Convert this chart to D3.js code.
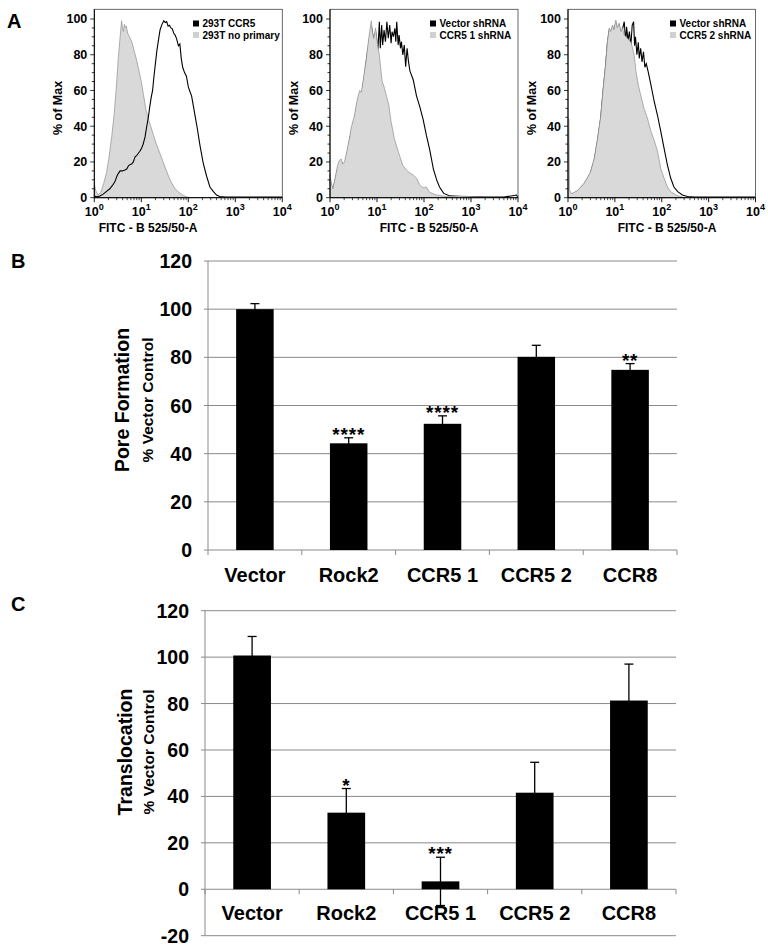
<!DOCTYPE html>
<html><head><meta charset="utf-8">
<script src="https://d3js.org/d3.v7.min.js"></script>
<style>
body{margin:0;background:#fff}
svg{display:block;font-family:"Liberation Sans",Arial,Helvetica,sans-serif;font-weight:bold}
</style></head>
<body><svg id="c" width="768" height="952"></svg>
<script>
// ---------------- DATA ----------------
// Panel A histograms: [log10(FITC), % of Max]
const h1Black = [[0,1],[0.05,0.5],[0.12,1],[0.19,2],[0.26,3.5],[0.33,5],[0.39,7],[0.44,9],[0.48,12],[0.51,13.5],[0.55,15],[0.6,15],[0.65,15.5],[0.69,16],[0.73,18],[0.76,18.5],[0.8,19],[0.83,20],[0.87,23],[0.9,23.5],[0.94,25],[0.97,26],[1.01,28],[1.04,30],[1.08,34],[1.11,39],[1.15,45],[1.18,51],[1.21,56],[1.24,60],[1.27,68],[1.3,75],[1.33,82],[1.37,89],[1.4,94],[1.44,97],[1.48,99],[1.51,98],[1.54,98.5],[1.57,96],[1.6,96.5],[1.63,95],[1.66,94.5],[1.69,92],[1.72,91],[1.75,89],[1.79,85],[1.82,86],[1.85,78],[1.88,73],[1.92,70],[1.96,68],[2.0,62],[2.04,59],[2.07,57],[2.11,51],[2.15,45],[2.19,39],[2.25,29],[2.32,19],[2.39,12],[2.46,6],[2.53,3.5],[2.6,1.5],[2.67,0.7],[2.8,0.4],[3.0,0.3],[3.5,0.3],[4,0.3]];
const h1Gray = [[0,8],[0.03,4],[0.08,1.5],[0.14,3],[0.2,8],[0.26,14],[0.31,22],[0.37,34],[0.42,46],[0.47,62],[0.51,78],[0.55,90],[0.58,99],[0.6,95],[0.62,93],[0.64,97],[0.66,95],[0.68,96],[0.71,92],[0.75,90],[0.8,87],[0.85,82],[0.9,77],[0.95,71],[1.0,65],[1.05,57],[1.1,49],[1.15,44],[1.2,40],[1.26,35],[1.32,30],[1.38,26],[1.45,21],[1.52,16],[1.58,12],[1.65,8],[1.72,5],[1.8,3],[1.88,1.5],[1.97,0.4],[2.05,0]];
const h2Black = [[0,10],[0.06,4],[0.16,16],[0.24,20],[0.31,18],[0.38,27],[0.45,37],[0.52,44],[0.59,54],[0.63,58],[0.68,59],[0.73,68],[0.8,82],[0.88,96],[0.93,88],[0.97,93],[1.02,83],[1.05,98.5],[1.07,83.6],[1.1,96.6],[1.12,85.4],[1.15,93.8],[1.18,87.3],[1.21,98.5],[1.24,89.2],[1.27,96.6],[1.3,86.4],[1.32,92.9],[1.35,90.1],[1.38,94.8],[1.4,87.3],[1.42,98.5],[1.45,85.4],[1.47,91],[1.5,83.6],[1.52,87.3],[1.55,79.9],[1.58,85.4],[1.61,73.3],[1.64,83.6],[1.67,76.1],[1.7,71],[1.77,66],[1.84,57],[1.91,51],[1.98,44],[2.05,35],[2.12,27],[2.2,16],[2.27,10],[2.33,6],[2.42,2.4],[2.55,1],[2.8,0.6],[3.0,0.5],[3.3,0.3],[3.7,0.3],[3.97,1.5],[4,0]];
const h2Gray = [[0,13],[0.03,8],[0.06,5],[0.11,11],[0.16,18],[0.2,21],[0.24,21.6],[0.27,19],[0.31,20],[0.35,25],[0.38,29],[0.42,34],[0.45,39],[0.49,43],[0.52,46],[0.56,52],[0.59,56],[0.63,60],[0.66,59],[0.68,61],[0.73,70],[0.77,77],[0.8,84],[0.84,92],[0.88,99],[0.9,93],[0.93,89],[0.97,95],[1.0,88],[1.02,84],[1.05,80],[1.08,72],[1.11,65],[1.14,63],[1.16,61],[1.21,56],[1.25,52],[1.3,42.5],[1.37,33],[1.45,26],[1.5,22],[1.55,18],[1.66,14.5],[1.77,12.7],[1.84,11],[1.91,7],[1.98,5.6],[2.05,6],[2.12,3],[2.26,1.5],[2.48,0.7],[2.76,1],[2.98,0.6],[3.16,0.3],[3.2,0]];
const h3Black = [[0,0.5],[0.09,2],[0.2,3.5],[0.34,7.5],[0.41,10.5],[0.48,14],[0.56,21],[0.63,32],[0.7,45],[0.75,60],[0.8,73],[0.84,86],[0.88,94],[0.91,92],[0.95,95.6],[0.98,93],[1.02,98],[1.05,94],[1.09,96.6],[1.13,92],[1.16,94],[1.2,98.5],[1.23,87],[1.25,95.7],[1.28,88],[1.31,93],[1.34,85],[1.37,96.6],[1.4,98.5],[1.42,85],[1.44,90],[1.47,80],[1.5,87],[1.52,78],[1.55,83.6],[1.58,76],[1.61,81.7],[1.64,73],[1.67,75],[1.71,70.5],[1.77,63],[1.84,53.7],[1.91,46],[1.98,37],[2.05,27.6],[2.12,18.3],[2.19,11],[2.26,6],[2.34,3.4],[2.44,1.5],[2.55,0.7],[2.7,0.3],[4,0.3]];
const h3Gray = [[0,44],[0.02,44],[0.03,5],[0.06,2.5],[0.09,2.4],[0.2,4],[0.34,8],[0.41,11],[0.48,14.5],[0.56,22],[0.63,33],[0.7,46],[0.75,61],[0.8,74],[0.84,87],[0.88,95],[0.91,93],[0.95,96.6],[0.98,94],[1.02,99.4],[1.05,95],[1.09,97.6],[1.13,93],[1.16,95],[1.2,91],[1.27,89],[1.34,87],[1.37,84.5],[1.41,80],[1.45,70.5],[1.5,63],[1.55,57.5],[1.62,50],[1.7,44],[1.77,37],[1.84,32],[1.91,26],[1.98,16],[2.05,11],[2.12,6],[2.19,3.4],[2.3,1.5],[2.41,0.5],[2.5,0]];
const histLegends = [["293T CCR5","293T no primary"],["Vector shRNA","CCR5 1 shRNA"],["Vector shRNA","CCR5 2 shRNA"]];
const histYTicks = [0,20,40,60,80,100];
const histXTicks = [1,10,100,1000,10000];

// Panels B / C bar charts
const categories = ["Vector","Rock2","CCR5 1","CCR5 2","CCR8"];
const poreValues = [100, 44.3, 52.4, 80.2, 74.8];
const poreErrors = [2.3, 2.3, 3.3, 4.8, 2.6];
const poreSig = ["", "****", "****", "", "**"];
const poreTicks = [0,20,40,60,80,100,120];
const transValues = [100.7, 33.0, 3.4, 41.6, 81.3];
const transErrors = [8.2, 10.4, 10.4, 13.1, 15.7];
const transSig = ["", "*", "***", "", ""];
const transTicks = [-20,0,20,40,60,80,100,120];

// ---------------- DRAW ----------------
const svg = d3.select("#c");

// Panel letters
svg.append("text").attr("x",7).attr("y",28).attr("font-size",20).text("A");
svg.append("text").attr("x",11).attr("y",268).attr("font-size",20).text("B");
svg.append("text").attr("x",11).attr("y",611).attr("font-size",20).text("C");

// ----- Panel A -----
const histPanels = [
  {x0:94.3, w:188, black:h1Black, gray:h1Gray, grayOnTop:false, leg:histLegends[0], legX:193, ylabX:58, fitcX:148},
  {x0:330, w:188, black:h2Black, gray:h2Gray, grayOnTop:true, leg:histLegends[1], legX:430, ylabX:294, fitcX:429},
  {x0:568, w:187.5, black:h3Black, gray:h3Gray, grayOnTop:true, leg:histLegends[2], legX:670, ylabX:532, fitcX:667}
];
const hTop = 9.3, hBot = 197.7;
histPanels.forEach(p => {
  const g = svg.append("g");
  const x = d3.scaleLog().domain([1,10000]).range([p.x0, p.x0+p.w]);
  const y = d3.scaleLinear().domain([0,100]).range([hBot, 19]);
  const area = d3.area().x(d=>x(Math.pow(10,d[0]))).y0(y(0)).y1(d=>y(d[1]));
  const line = d3.line().x(d=>x(Math.pow(10,d[0]))).y(d=>y(d[1]));
  const drawGray = () => g.append("path").attr("d", area(p.gray))
      .attr("fill","#d9d9d9").attr("stroke","#9a9a9a").attr("stroke-width",0.8);
  const drawBlack = () => g.append("path").attr("d", line(p.black))
      .attr("fill","none").attr("stroke","#000").attr("stroke-width",1.1);
  if (p.grayOnTop) { drawBlack(); drawGray(); } else { drawGray(); drawBlack(); }
  // frame
  g.append("rect").attr("x",p.x0).attr("y",hTop).attr("width",p.w).attr("height",hBot-hTop)
    .attr("fill","none").attr("stroke","#444").attr("stroke-width",0.8);
  g.append("line").attr("x1",p.x0).attr("x2",p.x0).attr("y1",hTop).attr("y2",hBot).attr("stroke","#000").attr("stroke-width",1);
  g.append("line").attr("x1",p.x0).attr("x2",p.x0+p.w).attr("y1",hBot).attr("y2",hBot).attr("stroke","#000").attr("stroke-width",1);
  // y ticks
  d3.range(0,101,5).forEach(v => {
    const major = v % 20 === 0;
    g.append("line").attr("x1",p.x0-(major?4:2.5)).attr("x2",p.x0).attr("y1",y(v)).attr("y2",y(v))
      .attr("stroke","#000").attr("stroke-width",0.8);
  });
  histYTicks.forEach(v => {
    g.append("text").attr("x",p.x0-7).attr("y",y(v)+4.3).attr("text-anchor","end").attr("font-size",12.5).text(v);
  });
  // x ticks
  for (let d=0; d<4; d++) for (let k=2;k<10;k++) {
    const xv = x(k*Math.pow(10,d));
    g.append("line").attr("x1",xv).attr("x2",xv).attr("y1",hBot).attr("y2",hBot+2.5).attr("stroke","#000").attr("stroke-width",0.7);
  }
  histXTicks.forEach((v,i) => {
    g.append("line").attr("x1",x(v)).attr("x2",x(v)).attr("y1",hBot).attr("y2",hBot+4.5).attr("stroke","#000").attr("stroke-width",0.9);
    const t = g.append("text").attr("x",x(v)).attr("y",216).attr("text-anchor","middle").attr("font-size",12.5);
    t.append("tspan").text("10");
    t.append("tspan").attr("dy",-6).attr("font-size",9).text(i);
  });
  g.append("text").attr("x",p.fitcX).attr("y",232).attr("text-anchor","middle").attr("font-size",12).text("FITC - B 525/50-A");
  g.append("text").attr("transform",`translate(${p.ylabX},108) rotate(-90)`).attr("dy","0.35em")
    .attr("text-anchor","middle").attr("font-size",12.5).text("% of Max");
  // legend
  g.append("rect").attr("x",p.legX).attr("y",20.5).attr("width",6).attr("height",6).attr("fill","#000");
  g.append("rect").attr("x",p.legX).attr("y",32).attr("width",6).attr("height",6).attr("fill","#d0d0d0");
  g.append("text").attr("x",p.legX+9.5).attr("y",27).attr("font-size",10).text(p.leg[0]);
  g.append("text").attr("x",p.legX+9.5).attr("y",38.6).attr("font-size",10).text(p.leg[1]);
});

// ----- Bar panels -----
function barPanel(o) {
  const g = svg.append("g");
  const x = d3.scaleBand().domain(categories).range([o.x0,o.x1]).paddingInner(0.6).paddingOuter(0.3);
  const y = d3.scaleLinear().domain(o.domain).range([o.yBot,o.yTop]);
  const grid = "#8a8a8a";
  o.ticks.forEach(v => {
    g.append("line").attr("x1",o.x0-4).attr("x2",o.x1).attr("y1",y(v)).attr("y2",y(v)).attr("stroke",grid).attr("stroke-width",1);
    g.append("text").attr("x",o.x0-16).attr("y",y(v)+7).attr("text-anchor","end").attr("font-size",19.5).text(v);
  });
  g.append("line").attr("x1",o.x0).attr("x2",o.x0).attr("y1",y(o.domain[0])).attr("y2",y(o.domain[1])).attr("stroke",grid).attr("stroke-width",1);
  // category tick marks on zero line
  const step = x.step();
  for (let i=0;i<=categories.length;i++) {
    const xx = o.x0 + i*step;
    g.append("line").attr("x1",xx).attr("x2",xx).attr("y1",y(0)).attr("y2",y(0)+5).attr("stroke",grid).attr("stroke-width",1);
  }
  categories.forEach((c,i) => {
    const cx = x(c) + x.bandwidth()/2;
    const v = o.values[i], e = o.errors[i];
    g.append("rect").attr("x",x(c)).attr("width",x.bandwidth())
      .attr("y",y(Math.max(v,0))).attr("height",Math.abs(y(v)-y(0))).attr("fill","#000");
    g.append("line").attr("x1",cx).attr("x2",cx).attr("y1",y(v+e)).attr("y2",y(v-e)).attr("stroke","#000").attr("stroke-width",1.3);
    g.append("line").attr("x1",cx-4.5).attr("x2",cx+4.5).attr("y1",y(v+e)).attr("y2",y(v+e)).attr("stroke","#000").attr("stroke-width",1.3);
    g.append("line").attr("x1",cx-4.5).attr("x2",cx+4.5).attr("y1",y(v-e)).attr("y2",y(v-e)).attr("stroke","#000").attr("stroke-width",1.3);
    if (o.sig[i]) {
      g.append("text").attr("x",cx).attr("y",y(v+e)+3).attr("text-anchor","middle")
        .attr("font-size",19).attr("letter-spacing",0.8).text(o.sig[i]);
    }
    g.append("text").attr("x",cx).attr("y",o.catY).attr("text-anchor","middle").attr("font-size",20).text(c);
  });
  g.append("text").attr("transform",`translate(${o.lab1X},${o.labY}) rotate(-90)`).attr("dy","0.35em")
    .attr("text-anchor","middle").attr("font-size",19.5).text(o.label1);
  g.append("text").attr("transform",`translate(${o.lab2X},${o.labY}) rotate(-90)`).attr("dy","0.35em")
    .attr("text-anchor","middle").attr("font-size",15.5).text("% Vector Control");
}

barPanel({x0:208, x1:677, yTop:261, yBot:550, domain:[0,120], ticks:poreTicks,
  values:poreValues, errors:poreErrors, sig:poreSig, catY:582,
  label1:"Pore Formation", lab1X:122, lab2X:148, labY:400});
barPanel({x0:205, x1:676, yTop:610.7, yBot:935.7, domain:[-20,120], ticks:transTicks,
  values:transValues, errors:transErrors, sig:transSig, catY:920,
  label1:"Translocation", lab1X:125, lab2X:149, labY:752});
</script></body></html>
